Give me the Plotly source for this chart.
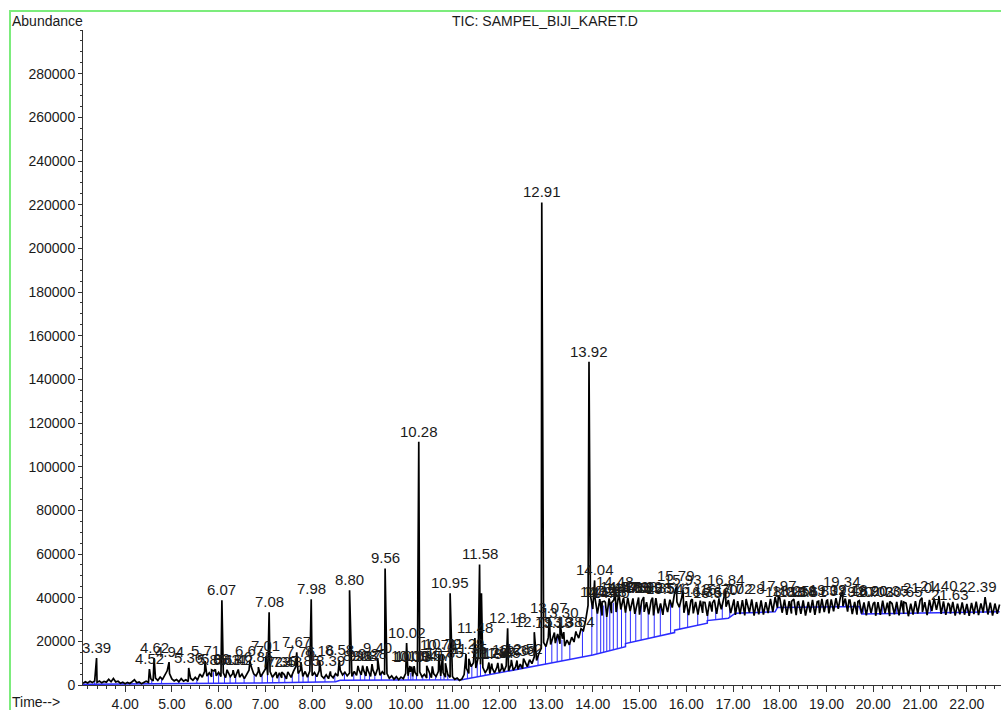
import numpy as np
import plotly.graph_objects as go

# ---------------- data ----------------
# TIC trace sampled every 0.05 min from 3.10 min
scan_start = 3.10
scan_step = 0.05
tic_abundance = [
    # 3.10 - 4.05
    800, 1500, 900, 1700, 1100, 1900, 1200, 1800, 1000, 1600, 1300, 2600, 1500, 3000, 1400, 1700, 800, 1300, 600, 1200,
    # 4.10 - 5.05
    700, 1500, 2400, 1000, 1400, 600, 1100, 1700, 1200, 2800, 1900, 3200, 2100, 3600, 2600, 4800, 6500, 5200, 2800, 1900,
    # 5.10 - 6.05
    2500, 1500, 2900, 1800, 2400, 1600, 3100, 2200, 3500, 2400, 5000, 3600, 6200, 4100, 5600, 3800, 6400, 4200, 5800, 3900,
    # 6.10 - 7.05
    5600, 3400, 6000, 3800, 5200, 3300, 5900, 3600, 5000, 2900, 4800, 6800, 8200, 5100, 4200, 6300, 3800, 5600, 7300, 4500,
    # 7.10 - 8.05
    6100, 3600, 5200, 3100, 5600, 3300, 4900, 2800, 5400, 3500, 6200, 8400, 5300, 6900, 4000, 5800, 3600, 6400, 4300, 5700,
    # 8.10 - 9.05
    3800, 6500, 4200, 3100, 4700, 2900, 4400, 3300, 5200, 4100, 6800, 4600, 5900, 4200, 5500, 3900, 6200, 4400, 7100, 4600,
    # 9.10 - 10.05
    6800, 4200, 6400, 3900, 6900, 4300, 7600, 4500, 6100, 4700, 5200, 3100, 4200, 2600, 3800, 2400, 3600, 2900, 5300, 4200,
    # 10.10 - 11.05
    6100, 3900, 5800, 4100, 6000, 3700, 4900, 3200, 5600, 3400, 5100, 3900, 6300, 4200, 5700, 3600, 4800, 3500, 3900, 2600,
    # 11.10 - 12.05
    3200, 2100, 2700, 4800, 7600, 5300, 8400, 10200, 7800, 12600, 9400, 8100, 5600, 7400, 5200, 7900, 5500, 8100, 5800, 7600,
    # 12.10 - 13.05
    6200, 8800, 6400, 9200, 6800, 8300, 7100, 9600, 7500, 10400, 8400, 11600, 9800, 12900, 11200, 14600, 16800, 19500, 17600, 21800,
    # 13.10 - 14.05
    18600, 22300, 19200, 23400, 18900, 21200, 17800, 20600, 18400, 21900, 19700, 23700, 21500, 25800, 24900, 29800, 36500, 41200, 34800, 39600,
    # 14.10 - 15.05
    32700, 39300, 31800, 38400, 31200, 39700, 32900, 38900, 33400, 40700, 34600, 39400, 33100, 40000, 33900, 38700, 32600, 38100, 32200, 38600,
    # 15.10 - 16.05
    33500, 37900, 32400, 38800, 31900, 38200, 32800, 37400, 32100, 37700, 33400, 39100, 35500, 42000, 38100, 35600, 39900, 33100, 38400, 32000,
    # 16.10 - 17.05
    38700, 32800, 38100, 32200, 38600, 33000, 37800, 31700, 38300, 33600, 39000, 32600, 39700, 34700, 40600, 35800, 38900, 32900, 38200, 32100,
    # 17.10 - 18.05
    38400, 32500, 38900, 31900, 37600, 33200, 39200, 31800, 38000, 32400, 38700, 32200, 37900, 32900, 39400, 33500, 40200, 35400, 39800, 33100,
    # 18.10 - 19.05
    39100, 32100, 38400, 32700, 39300, 32000, 38100, 32600, 38800, 31800, 37700, 33200, 39000, 32100, 38200, 32900, 39400, 33400, 38700, 32800,
    # 19.10 - 20.05
    39200, 33700, 39800, 34900, 40700, 36100, 39600, 33600, 38900, 32500, 38100, 32200, 38600, 32700, 37800, 31900, 38300, 33000, 37400, 31700,
    # 20.10 - 21.05
    38000, 32100, 38600, 32800, 37700, 31600, 37300, 32400, 38100, 31900, 38700, 32600, 37500, 31500, 37200, 32300, 38400, 32700, 38800, 33400,
    # 21.10 - 22.05
    37900, 32000, 39000, 33900, 39700, 34400, 39200, 32600, 38300, 32100, 37600, 32700, 38100, 31800, 37300, 32400, 37800, 32200, 37100, 31700,
    # 22.10 - 22.70
    37600, 32500, 38200, 32000, 37400, 33100, 38800, 32300, 37700, 31800, 37300, 32600, 36900,
]

# integrated peaks: retention time, apex abundance, printed label
peak_times = [
    3.39, 4.52, 4.62, 4.94, 5.36, 5.71, 5.85, 5.93, 6.07, 6.18, 6.31, 6.42, 6.67, 6.85, 7.01, 7.08,
    7.23, 7.35, 7.48, 7.67, 7.76, 7.85, 7.98, 8.16, 8.39, 8.58, 8.80, 8.98, 9.08, 9.17, 9.28, 9.40,
    9.56, 10.02, 10.09, 10.13, 10.18, 10.28, 10.45, 10.57, 10.71, 10.79, 10.85, 10.95, 11.29, 11.35,
    11.48, 11.58, 11.62, 11.78, 11.84, 11.97, 12.05, 12.18, 12.26, 12.38, 12.52, 12.75, 12.91, 13.07,
    13.18, 13.30, 13.38, 13.64, 13.92, 14.04, 14.14, 14.20, 14.27, 14.33, 14.40, 14.48, 14.57, 14.66,
    14.75, 14.86, 14.98, 15.09, 15.28, 15.35, 15.54, 15.79, 15.93, 16.13, 16.36, 16.56, 16.70, 16.84,
    17.02, 17.28, 17.97, 18.08, 18.25, 18.38, 18.61, 18.83, 19.02, 19.34, 19.48, 19.67, 19.90, 20.03,
    20.35, 20.65, 21.04, 21.40, 21.63, 22.39,
]
peak_heights = [
    12300, 7300, 12300, 10500, 7800, 11000, 6900, 7200, 38800, 7000, 6800, 7100, 11000, 8200, 13200, 33300,
    5900, 5900, 6000, 15000, 10500, 6200, 39300, 11000, 6200, 11400, 43400, 8700, 8900, 8600, 9600, 12300,
    53400, 19200, 8700, 8400, 8600, 111400, 8800, 8500, 13700, 14200, 10000, 42000, 14200, 12000,
    21500, 55200, 42000, 10300, 9800, 10100, 9900, 26000, 11500, 11200, 12100, 24200, 221000, 30600,
    24000, 28300, 24200, 24500, 148000, 47900, 37800, 38100, 37900, 38200, 37600, 42500, 40200, 39800,
    39900, 39700, 40100, 40300, 40000, 39800, 39500, 45200, 43400, 39300, 37900, 37600, 38800, 43400,
    39200, 39400, 40800, 38000, 38300, 37900, 38100, 38400, 38900, 42800, 38900, 38200, 38400, 38000,
    38300, 38000, 40000, 40800, 36500, 40300,
]
peak_labels = [
    "3.39", "4.52", "4.62", "4.94", "5.36", "5.71", "5.85", "5.93", "6.07", "6.18", "6.31", "6.42", "6.67", "6.85", "7.01", "7.08",
    "7.23", "7.35", "7.48", "7.67", "7.76", "7.85", "7.98", "8.16", "8.39", "8.58", "8.80", "8.98", "9.08", "9.17", "9.28", "9.40",
    "9.56", "10.02", "10.09", "10.13", "10.18", "10.28", "10.45", "10.57", "10.71", "10.79", "10.85", "10.95", "11.29", "11.35",
    "11.48", "11.58", "", "11.78", "11.84", "11.97", "12.05", "12.18", "12.26", "12.38", "12.52", "12.75", "12.91", "13.07",
    "13.18", "13.30", "13.38", "13.64", "13.92", "14.04", "14.14", "14.20", "14.27", "14.33", "14.40", "14.48", "14.57", "14.66",
    "14.75", "14.86", "14.98", "15.09", "15.28", "15.35", "15.54", "15.79", "15.93", "16.13", "16.36", "16.56", "16.70", "16.84",
    "17.02", "17.28", "17.97", "18.08", "18.25", "18.38", "18.61", "18.83", "19.02", "19.34", "19.48", "19.67", "19.90", "20.03",
    "20.35", "20.65", "21.04", "21.40", "21.63", "22.39",
]

# integration baseline (blue)
baseline_times = [3.10, 4.50, 5.60, 6.90, 8.50, 8.60, 11.20, 12.00, 13.00, 14.00, 14.70, 14.70, 15.45, 15.50,
                  15.75, 15.75, 16.15, 16.45, 16.45, 16.90, 17.05, 17.90, 17.95, 19.70, 19.75, 22.70]
baseline_values = [300, 400, 600, 900, 1500, 2200, 2400, 5500, 9600, 13700, 17500, 19000, 22500, 22800,
                   24000, 25100, 26900, 28300, 29500, 30600, 32900, 33500, 35500, 36000, 32500, 33500]

y_ticks = [0, 20000, 40000, 60000, 80000, 100000, 120000, 140000, 160000, 180000,
           200000, 220000, 240000, 260000, 280000]
x_ticks = [4, 5, 6, 7, 8, 9, 10, 11, 12, 13, 14, 15, 16, 17, 18, 19, 20, 21, 22]

x_range = [3.10, 22.73]
y_range = [0, 300000]

# ---------------- build ----------------
scan_time = np.round(scan_start + scan_step * np.arange(len(tic_abundance)), 2)
all_t = np.concatenate([scan_time, np.array(peak_times)])
all_v = np.concatenate([np.array(tic_abundance, float), np.array(peak_heights, float)])
order = np.argsort(all_t, kind="stable")
tr_t, tr_v = all_t[order], all_v[order]

# drop lines at the boundaries between neighbouring peaks
pt = np.array(peak_times)
bounds = np.concatenate([[pt[0] - 0.04], (pt[:-1] + pt[1:]) / 2, [pt[-1] + 0.04]])
dx, dy = [], []
for b in bounds:
    base = np.interp(b, baseline_times, baseline_values)
    top = np.interp(b, scan_time, tic_abundance)
    if top > base:
        dx += [b, b, None]
        dy += [base, top, None]

BLUE = "#2b2bff"
INK = "#1a1a1a"
FONT = "Liberation Sans, Arial, sans-serif"

L, R, T, B = 83, 0, 30, 25
W, H = 1001, 712
pw, ph = W - L - R, H - T - B

def px(xp):
    return (xp - L) / pw

def py(yp):
    return (H - B - yp) / ph

fig = go.Figure()
fig.add_trace(go.Scatter(x=dx, y=dy, mode="lines", line=dict(color=BLUE, width=1),
                         hoverinfo="skip", showlegend=False))
fig.add_trace(go.Scatter(x=baseline_times, y=baseline_values, mode="lines",
                         line=dict(color=BLUE, width=1.5), hoverinfo="skip", showlegend=False))
fig.add_trace(go.Scatter(x=tr_t, y=tr_v, mode="lines", line=dict(color="black", width=1.7),
                         showlegend=False))

annotations = []
for t, h, lab in zip(peak_times, peak_heights, peak_labels):
    if not lab:
        continue
    # keep labels inside the right edge of the page
    xpix = L + (t - x_range[0]) / (x_range[1] - x_range[0]) * pw
    half = 4.2 * len(lab)
    shift = min(0, (W - 2) - (xpix + half))
    annotations.append(dict(x=t, y=h, xref="x", yref="y", text=lab, showarrow=False,
                            yanchor="bottom", xanchor="center", xshift=shift,
                            font=dict(family=FONT, size=15, color=INK)))

annotations += [
    dict(x=px(10), y=py(21), xref="paper", yref="paper", text="Abundance", showarrow=False,
         xanchor="left", yanchor="middle", font=dict(family=FONT, size=14, color=INK)),
    dict(x=px(545), y=py(21), xref="paper", yref="paper", text="TIC: SAMPEL_BIJI_KARET.D",
         showarrow=False, xanchor="center", yanchor="middle", font=dict(family=FONT, size=14, color=INK)),
    dict(x=px(10), y=py(704), xref="paper", yref="paper", text="Time-->", showarrow=False,
         xanchor="left", yanchor="middle", font=dict(family=FONT, size=14, color=INK)),
]

fig.update_layout(
    width=W, height=H,
    margin=dict(l=L, r=R, t=T, b=B, pad=0),
    paper_bgcolor="white", plot_bgcolor="white",
    annotations=annotations,
    shapes=[dict(type="path", xref="paper", yref="paper",
                 path=f"M {px(10)},{py(712)} L {px(10)},{py(11)} L {px(1001)},{py(11)}",
                 line=dict(color="#7cec7c", width=2))],
    xaxis=dict(range=x_range, tickmode="array", tickvals=x_ticks,
               ticktext=[f"{v:.2f}" for v in x_ticks], ticks="outside", ticklen=6,
               tickcolor="#333", showline=True, linecolor="#333", linewidth=1, showgrid=False,
               zeroline=False, tickfont=dict(family=FONT, size=14, color=INK),
               minor=dict(tick0=4, dtick=0.2, ticks="outside", ticklen=3, tickcolor="#333")),
    yaxis=dict(range=y_range, tickmode="array", tickvals=y_ticks,
               ticktext=[str(v) for v in y_ticks], ticks="outside", ticklen=4,
               tickcolor="#333", showline=True, linecolor="#333", linewidth=1, showgrid=False,
               zeroline=False, tickfont=dict(family=FONT, size=14, color=INK),
               minor=dict(tick0=0, dtick=5000, ticks="outside", ticklen=2, tickcolor="#333")),
)

fig.write_html("out.html", config={"displayModeBar": False},
               post_script="document.body.style.margin='0';document.body.style.padding='0';"
                           "document.documentElement.style.overflow='hidden';")
